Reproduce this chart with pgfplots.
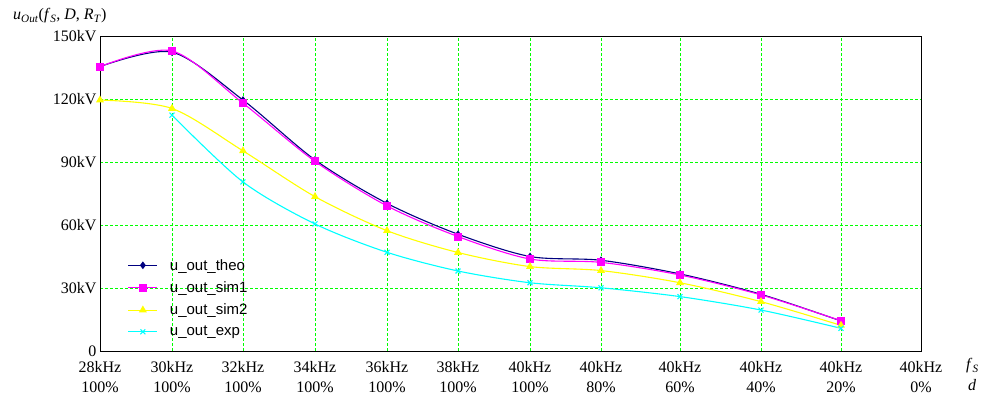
\documentclass[border=0pt]{standalone}
\usepackage{pgfplots}
\pgfplotsset{compat=1.18}
\usepackage{fontspec}
\setmainfont{Liberation Serif}
\newfontfamily\legfont{Liberation Sans}
\definecolor{gridgreen}{RGB}{0,255,0}
\definecolor{theo}{RGB}{0,0,128}
\definecolor{simone}{RGB}{255,0,255}
\definecolor{simtwo}{RGB}{255,255,0}
\definecolor{expc}{RGB}{0,255,255}
\begin{document}
\begin{tikzpicture}
\path[use as bounding box] (-100pt,-46pt) rectangle (881pt,351pt);
\begin{axis}[
  at={(0pt,0pt)}, anchor=south west,
  scale only axis, width=821pt, height=315pt,
  xmin=0, xmax=821, ymin=0, ymax=150,
  axis line style={black, line width=0.8pt},
  major tick length=0pt,
  grid=major,
  major grid style={gridgreen, dash pattern=on 3pt off 2pt, line width=0.8pt},
  xtick={0,72,143,215,287,358,430,501,580,661,741,821},
  xticklabels={{28kHz\\100\%},{30kHz\\100\%},{32kHz\\100\%},{34kHz\\100\%},{36kHz\\100\%},{38kHz\\100\%},{40kHz\\100\%},{40kHz\\80\%},{40kHz\\60\%},{40kHz\\40\%},{40kHz\\20\%},{40kHz\\0\%}},
  xticklabel style={align=center, font=\fontsize{16}{19.5}\selectfont, yshift=-7pt},
  ytick={0,30,60,90,120,150},
  yticklabels={0,30kV,60kV,90kV,120kV,150kV},
  yticklabel style={font=\fontsize{16}{19}\selectfont},
  legend style={at={(0.03,0.305)}, anchor=north west, draw=none, fill=none,
    font=\legfont\fontsize{15}{18}\selectfont, row sep=6pt,
    /tikz/every odd column/.append style={column sep=10pt}},
  legend cell align=left,
  every axis plot/.append style={line width=1.1pt, smooth, tension=0.5,
    legend image code/.code={\draw[mark repeat=2,mark phase=2,##1] plot coordinates {(0pt,0pt) (14.5pt,0pt) (29pt,0pt)};}},
]
\addplot[theo, mark=diamond*, mark size=3pt, mark options={fill=theo}] coordinates {
(0,135.4) (72,142.3) (143,119.5) (215,91) (287,70.3) (358,55.6) (430,45) (501,43.2) (580,36.7) (661,27) (741,14.3)};
\addlegendentry{u\_out\_theo}
\addplot[simone, mark=square*, mark size=3.5pt, mark options={fill=simone}] coordinates {
(0,135.4) (72,142.9) (143,118) (215,90.3) (287,69.1) (358,54.5) (430,43.8) (501,42.2) (580,36.2) (661,26.7) (741,14.4)};
\addlegendentry{u\_out\_sim1}
\addplot[simtwo, mark=triangle*, mark size=3.5pt, mark options={fill=simtwo}] coordinates {
(0,119.5) (72,115.5) (143,95.3) (215,73.5) (287,57.3) (358,46.9) (430,40.2) (501,38.3) (580,32.5) (661,23.5) (741,12.2)};
\addlegendentry{u\_out\_sim2}
\addplot[expc, mark=x, mark size=3.5pt] coordinates {
(72,112.3) (143,80.5) (215,60.5) (287,47) (358,38.1) (430,32.5) (501,30.1) (580,25.9) (661,19.5) (741,10.8)};
\addlegendentry{u\_out\_exp}
\end{axis}
\node[anchor=base west, inner sep=0pt, font=\fontsize{16}{19}\selectfont] at (-87pt,331pt)
  {\textit{u}\textsubscript{\textit{Out}}(\textit{f}\textsubscript{\textit{S}}, \textit{D}, \textit{R}\textsubscript{\textit{T}})};
\node[anchor=west, inner sep=0pt, font=\fontsize{16}{19}\selectfont] at (866pt,-15pt) {\textit{f}\textsubscript{\textit{S}}};
\node[anchor=west, inner sep=0pt, font=\fontsize{16}{19}\selectfont] at (868pt,-34pt) {\textit{d}};
\end{tikzpicture}
\end{document}
